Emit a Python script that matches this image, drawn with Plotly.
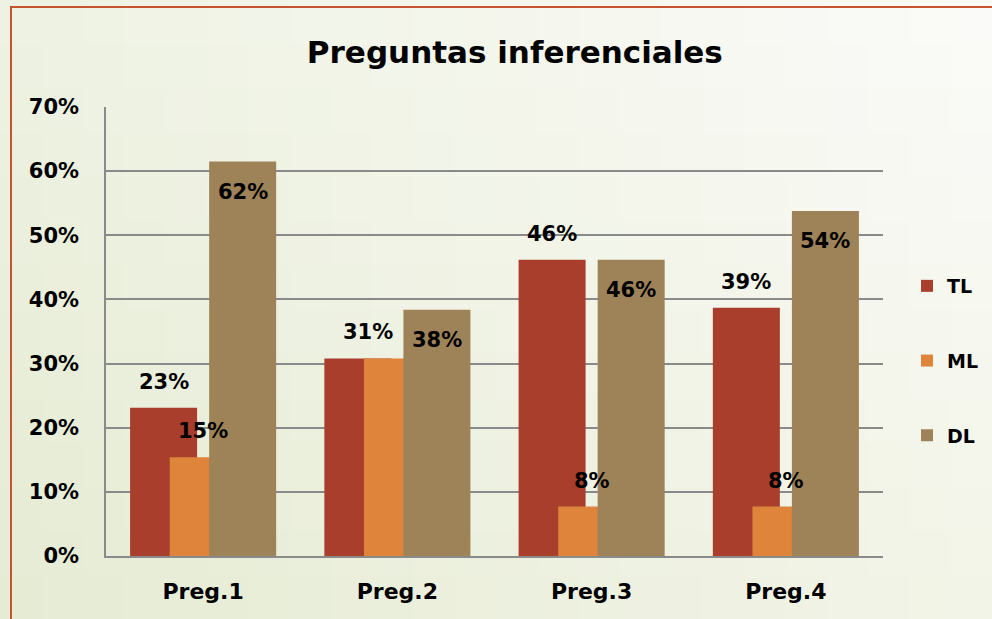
import plotly.graph_objects as go

categories = ["Preg.1", "Preg.2", "Preg.3", "Preg.4"]
series_names = ["TL", "ML", "DL"]
tl_values = [0.231, 0.308, 0.462, 0.387]
ml_values = [0.154, 0.308, 0.077, 0.077]
dl_values = [0.615, 0.384, 0.462, 0.538]
# which data labels are shown (Preg.2 ML label overlaps TL and is hidden)
tl_show = [True, True, True, True]
ml_show = [True, False, True, True]
dl_show = [True, True, True, True]
y_ticks = [0, 0.1, 0.2, 0.3, 0.4, 0.5, 0.6, 0.7]

colors = {"TL": "#aa3e2c", "ML": "#de843b", "DL": "#9e8358"}
WIDTH = 0.345
offsets = {"TL": -0.376, "ML": -0.172, "DL": 0.031}

fig = go.Figure()
data = {"TL": tl_values, "ML": ml_values, "DL": dl_values}
shows = {"TL": tl_show, "ML": ml_show, "DL": dl_show}

for name in series_names:
    fig.add_trace(go.Bar(
        x=list(range(len(categories))), y=data[name], name=name,
        width=WIDTH, offset=offsets[name],
        marker=dict(color=colors[name], line=dict(width=0)),
        legendgroup=name, hoverinfo="y",
    ))

font_family = "'DejaVu Sans', sans-serif"
annotations = []
for name in series_names:
    for i, v in enumerate(data[name]):
        if not shows[name][i]:
            continue
        xc = i + offsets[name] + WIDTH / 2
        if name == "TL" and i == 1:
            xc += 0.05
        annotations.append(dict(
            x=xc, y=v, xref="x", yref="y", text=f"{round(v*100)}%",
            showarrow=False, yshift=(-30 if name == "DL" else 26),
            font=dict(family=font_family, size=21, color="black", weight="bold"),
        ))

# background gradient (bottom-left greenish to top-right white)
def lerp(a, b, t):
    return tuple(a[k] + (b[k] - a[k]) * t for k in range(3))

TLc = (238, 242, 226); TRc = (251, 251, 249); BLc = (229, 235, 211); BRc = (242, 244, 231)
shapes = []
NX, NY = 24, 14
x0p, x1p = -106 / 777, (992 - 106) / 777
y0p, y1p = -63 / 449, (619 - 63) / 449
for ix in range(NX):
    for iy in range(NY):
        tx = (ix + 0.5) / NX
        ty = (iy + 0.5) / NY
        top = lerp(TLc, TRc, tx)
        bot = lerp(BLc, BRc, tx)
        c = lerp(bot, top, ty)
        shapes.append(dict(
            type="rect", xref="paper", yref="paper", layer="below",
            x0=x0p + (x1p - x0p) * ix / NX, x1=x0p + (x1p - x0p) * (ix + 1) / NX + 0.002,
            y0=y0p + (y1p - y0p) * iy / NY, y1=y0p + (y1p - y0p) * (iy + 1) / NY + 0.003,
            fillcolor="rgb(%d,%d,%d)" % tuple(int(round(u)) for u in c), line=dict(width=0),
        ))
# orange frame
shapes.append(dict(
    type="rect", xref="paper", yref="paper", layer="below",
    x0=(11 - 106) / 777, x1=(1010 - 106) / 777,
    y0=(556 - 640) / 449, y1=(556 - 7) / 449,
    line=dict(color="#c4552f", width=2), fillcolor="rgba(0,0,0,0)",
))

fig.update_layout(
    width=992, height=619,
    margin=dict(l=106, r=109, t=107, b=63, autoexpand=False),
    paper_bgcolor="#f2f4e8", plot_bgcolor="rgba(0,0,0,0)",
    barmode="overlay",
    font=dict(family=font_family, color="black"),
    title=dict(text="Preguntas inferenciales", x=0.519, xanchor="center",
               y=1 - 52 / 619, yanchor="middle",
               font=dict(size=31, family=font_family, weight="bold", color="black")),
    legend=dict(x=(907 - 106) / 777, xanchor="left", y=(556 - 361) / 449, yanchor="middle",
                font=dict(size=19, weight="bold", family=font_family),
                tracegroupgap=47, bgcolor="rgba(0,0,0,0)"),
    showlegend=True,
    annotations=annotations,
    shapes=shapes,
)
fig.update_xaxes(
    tickmode="array", tickvals=list(range(len(categories))), ticktext=categories,
    range=[-0.5, len(categories) - 0.5], automargin=False,
    showline=True, linecolor="#8a8a8a", linewidth=2, showgrid=False, ticks="",
    tickfont=dict(size=22, weight="bold", family=font_family), ticklabelstandoff=15,
)
fig.update_yaxes(
    range=[0, 0.7], tickvals=y_ticks, tickformat=".0%", automargin=False,
    showline=True, linecolor="#8a8a8a", linewidth=1.5,
    showgrid=True, gridcolor="#8a8a8a", gridwidth=1.5, zeroline=False, ticks="",
    tickfont=dict(size=21, weight="bold", family=font_family), ticklabelstandoff=21,
)

post = (
    "var h=document.documentElement,b=document.body;"
    "h.style.margin='0';h.style.padding='0';h.style.overflow='hidden';"
    "b.style.margin='0';b.style.padding='0';b.style.overflow='hidden';"
)
fig.write_html("out.html", post_script=post, config={"displayModeBar": False})
